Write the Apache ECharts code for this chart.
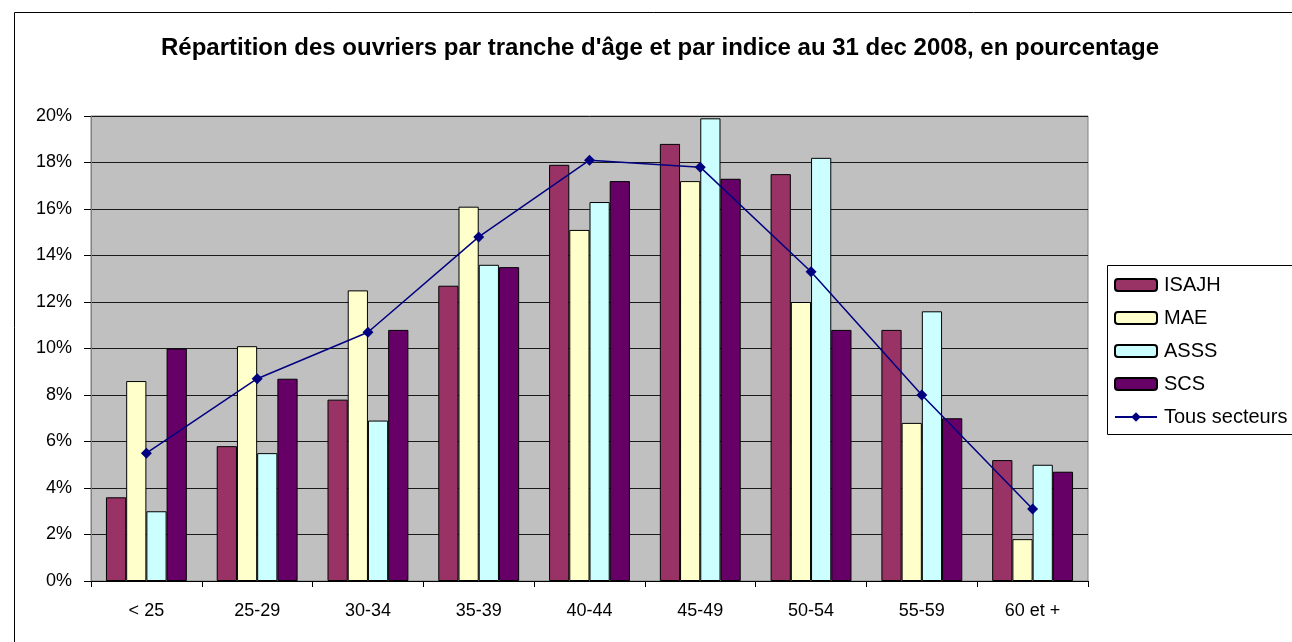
<!DOCTYPE html>
<html>
<head>
<meta charset="utf-8">
<script src="https://cdn.jsdelivr.net/npm/echarts@6/dist/echarts.min.js"></script>
<style>
  html, body { margin: 0; padding: 0; background: #ffffff; }
  #chart { width: 1292px; height: 642px; }
</style>
</head>
<body>
<div id="chart"></div>
<script>
// Age brackets
const categories = ['< 25', '25-29', '30-34', '35-39', '40-44', '45-49', '50-54', '55-59', '60 et +'];

// Share of workers per bracket, in percent
const isajh = [3.6, 5.8, 7.8, 12.7, 17.9, 18.8, 17.5, 10.8, 5.2];
const mae   = [8.6, 10.1, 12.5, 16.1, 15.1, 17.2, 12.0, 6.8, 1.8];
const asss  = [3.0, 5.5, 6.9, 13.6, 16.3, 19.9, 18.2, 11.6, 5.0];
const scs   = [10.0, 8.7, 10.8, 13.5, 17.2, 17.3, 10.8, 7.0, 4.7];
const tousSecteurs = [5.5, 8.7, 10.7, 14.8, 18.1, 17.8, 13.3, 8.0, 3.1];

const chartTitle = "Répartition des ouvriers par tranche d'âge et par indice au 31 dec 2008, en pourcentage";

const font = '"Liberation Sans", Arial, sans-serif';

function barSeries(name, data, color) {
  return {
    name: name,
    type: 'bar',
    data: data,
    barGap: '0%',
    barCategoryGap: '27%',
    itemStyle: { color: color, borderColor: '#000000', borderWidth: 1 },
    emphasis: { disabled: true }
  };
}

const chart = echarts.init(document.getElementById('chart'), null, { renderer: 'canvas' });

chart.setOption({
  animation: false,
  backgroundColor: '#ffffff',
  title: {
    text: chartTitle,
    left: 161,
    top: 36,
    padding: 0,
    textStyle: { fontFamily: font, fontSize: 24, fontWeight: 'bold', color: '#000000' }
  },
  graphic: [
    {
      // outer chart frame, running past the right and bottom edges
      type: 'rect',
      left: 12,
      top: 10,
      shape: { width: 1400, height: 700 },
      style: { fill: 'none', stroke: '#000000', lineWidth: 1 },
      silent: true,
      z: -1
    },
    {
      // legend frame, wider than the visible area
      type: 'rect',
      left: 1107,
      top: 265,
      shape: { width: 260, height: 169 },
      style: { fill: '#ffffff', stroke: '#000000', lineWidth: 1 },
      silent: true,
      z: 0
    }
  ],
  legend: {
    orient: 'vertical',
    left: 1107,
    top: 265,
    padding: [10, 0, 9, 7],
    itemWidth: 42,
    itemHeight: 12,
    itemGap: 13,
    borderWidth: 0,
    z: 10,
    textStyle: { fontFamily: font, fontSize: 20, color: '#000000', padding: [0, 0, 0, 2] },
    data: ['ISAJH', 'MAE', 'ASSS', 'SCS', 'Tous secteurs']
  },
  grid: {
    left: 91,
    right: 204,
    top: 116,
    bottom: 61,
    show: true,
    backgroundColor: '#C0C0C0',
    borderColor: '#808080',
    borderWidth: 1
  },
  xAxis: {
    type: 'category',
    data: categories,
    axisLine: { show: true, lineStyle: { color: '#000000', width: 1 } },
    axisTick: { show: true, length: 6, inside: false, alignWithLabel: false, lineStyle: { color: '#000000' } },
    axisLabel: { fontFamily: font, fontSize: 18, color: '#000000', margin: 21 },
    splitLine: { show: false }
  },
  yAxis: {
    type: 'value',
    min: 0,
    max: 20,
    interval: 2,
    axisLine: { show: true, lineStyle: { color: '#808080', width: 1 } },
    axisTick: { show: true, length: 7, lineStyle: { color: '#000000' } },
    axisLabel: { fontFamily: font, fontSize: 18, color: '#000000', margin: 19, formatter: '{value}%' },
    splitLine: { show: true, lineStyle: { color: '#1a1a1a', width: 1 } }
  },
  series: [
    barSeries('ISAJH', isajh, '#993366'),
    barSeries('MAE', mae, '#FFFFCC'),
    barSeries('ASSS', asss, '#CCFFFF'),
    barSeries('SCS', scs, '#660066'),
    {
      name: 'Tous secteurs',
      type: 'line',
      data: tousSecteurs,
      symbol: 'diamond',
      symbolSize: 11,
      lineStyle: { color: '#000080', width: 1.5 },
      itemStyle: { color: '#000080' },
      emphasis: { disabled: true },
      z: 5
    }
  ]
});
</script>
</body>
</html>
